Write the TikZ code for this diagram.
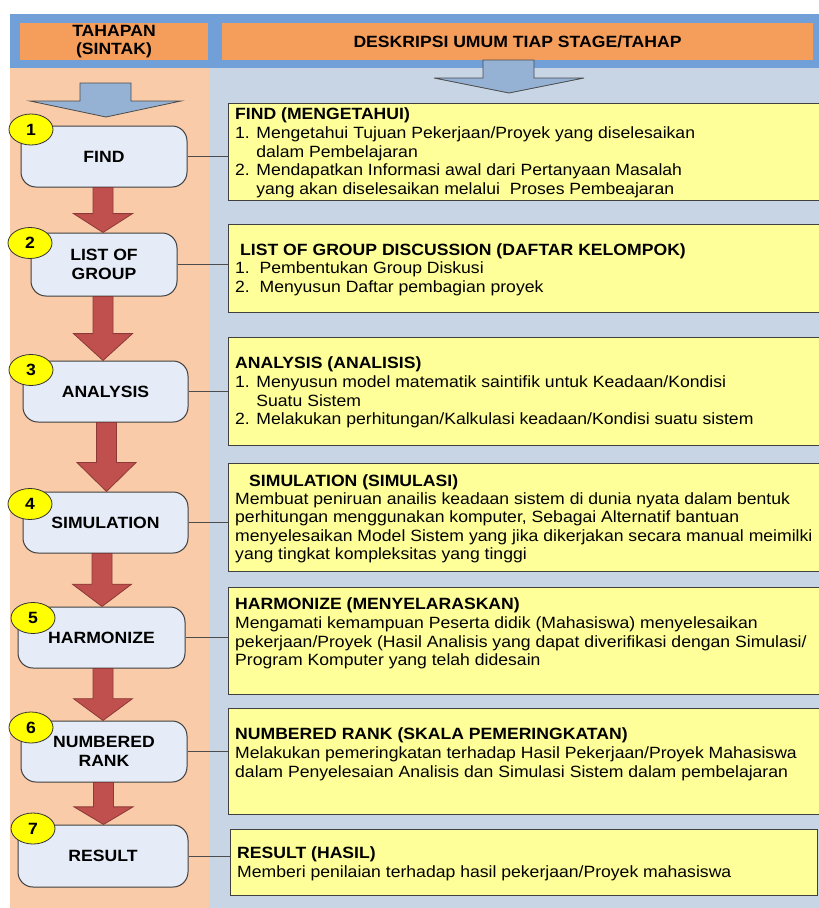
\documentclass[tikz,border=0pt]{standalone}
\usepackage{fontspec}
\setmainfont[FakeStretch=1.08]{Liberation Sans}
\usetikzlibrary{shapes.geometric,calc}

\definecolor{frameblue}{HTML}{719FD8}
\definecolor{headorange}{HTML}{F59E5B}
\definecolor{peach}{HTML}{F9CBA8}
\definecolor{steel}{HTML}{C7D5E5}
\definecolor{downblue}{HTML}{95B1D3}
\definecolor{stagefill}{HTML}{E5ECF7}
\definecolor{flowred}{HTML}{C0504D}
\definecolor{flowredline}{HTML}{8B3A38}
\definecolor{notefill}{HTML}{FFFF99}
\definecolor{badgeyellow}{HTML}{FFFF00}

\newcommand\txtsize{\fontsize{16.3}{18.6}\selectfont}

% block arrow between two stage boxes: from, to, x of the arrow axis
\newcommand\flowarrow[3]{%
  \path[flowarrowstyle] let \p1=(#1.south), \p2=(#2.north),
    \n1={\y2+0.42*(\y1-\y2)} in
    ({#3pt-10pt},\y1) -- ({#3pt+10pt},\y1) -- ({#3pt+10pt},\n1) --
    ({#3pt+29.5pt},\n1) -- ({#3pt},\y2) -- ({#3pt-29.5pt},\n1) --
    ({#3pt-10pt},\n1) -- cycle;}

\tikzset{
  header/.style={fill=headorange, font=\bfseries\txtsize, align=center, inner sep=0pt},
  downarrow/.style={fill=downblue, draw=black!70, line width=0.8pt},
  stagebox/.style={draw=black!75, line width=1pt, fill=stagefill, rounded corners=15pt,
    font=\bfseries\fontsize{16.3}{19}\selectfont, align=center, inner sep=0pt},
  badge/.style={ellipse, draw=black!80, line width=0.8pt, fill=badgeyellow,
    minimum width=44pt, minimum height=31pt, inner sep=0pt, font=\bfseries\txtsize},
  notebox/.style={draw=black!75, line width=0.9pt, fill=notefill, inner sep=0pt},
  % anchored on the baseline of the last line
  notetext/.style={anchor=base west, align=left, inner sep=0pt, font=\txtsize},
  flowarrowstyle/.style={fill=flowred, draw=flowredline, line width=0.8pt},
  link/.style={draw=black!70, line width=0.9pt},
}

\begin{document}
\begin{tikzpicture}[x=1pt,y=-1pt]
\useasboundingbox (0,0) rectangle (819,908);
\fill[white] (0,0) rectangle (819,908);

% frame and column backgrounds
\fill[frameblue] (10,14) rectangle (819,68);
\fill[peach] (10,68) rectangle (209,908);
\fill[steel] (209,68) rectangle (819,908);

% column headers
\node[header, minimum width=188pt, minimum height=37pt] (hleft) at (114,41.5) {TAHAPAN\\(SINTAK)};
\node[header, minimum width=591pt, minimum height=37pt] (hright) at (517.5,41.5) {DESKRIPSI UMUM TIAP STAGE/TAHAP};

% entry arrows under the headers
\path[downarrow] (80,83) -- (131,83) -- (131,101) -- (181,101) -- (106,117) -- (30,101) -- (80,101) -- cycle;
\path[downarrow] (483,60) -- (534,60) -- (534,78) -- (584,78) -- (509,93) -- (434,78) -- (483,78) -- cycle;

% stages
\node[stagebox, minimum width=166pt, minimum height=61pt] (s1) at (104,156.5) {FIND};
\node[stagebox, minimum width=146pt, minimum height=63pt] (s2) at (104,264.5) {LIST OF\\GROUP};
\node[stagebox, minimum width=165pt, minimum height=61pt] (s3) at (105.5,391.5) {ANALYSIS};
\node[stagebox, minimum width=165pt, minimum height=61pt] (s4) at (105.5,522.5) {SIMULATION};
\node[stagebox, minimum width=167pt, minimum height=61pt] (s5) at (101.5,637.5) {HARMONIZE};
\node[stagebox, minimum width=166pt, minimum height=61pt] (s6) at (104,751.5) {NUMBERED\\RANK};
\node[stagebox, minimum width=170pt, minimum height=62pt] (s7) at (103,856) {RESULT};

% step numbers
\node[badge] (c1) at (31,129.5) {1};
\node[badge] (c2) at (30,243) {2};
\node[badge] (c3) at (31,370) {3};
\node[badge] (c4) at (30,504) {4};
\node[badge] (c5) at (33,618) {5};
\node[badge] (c6) at (31,727.5) {6};
\node[badge] (c7) at (33,828.5) {7};

% flow between stages
\flowarrow{s1}{s2}{103}
\flowarrow{s2}{s3}{103}
\flowarrow{s3}{s4}{106.5}
\flowarrow{s4}{s5}{102}
\flowarrow{s5}{s6}{103}
\flowarrow{s6}{s7}{103.5}

% description boxes
\node[notebox, minimum width=594pt, minimum height=97pt] (d1) at (525,151.5) {};
\node[notebox, minimum width=594pt, minimum height=88pt] (d2) at (525,268) {};
\node[notebox, minimum width=594pt, minimum height=108pt] (d3) at (525,391) {};
\node[notebox, minimum width=594pt, minimum height=108pt] (d4) at (525,517) {};
\node[notebox, minimum width=594pt, minimum height=107pt] (d5) at (525,640.5) {};
\node[notebox, minimum width=594pt, minimum height=106pt] (d6) at (525,761) {};
\node[notebox, minimum width=587pt, minimum height=66pt] (d7) at (523.5,862) {};

% links from stages to descriptions
\foreach \i in {1,...,7} \draw[link] (s\i.east) -- (s\i.east -| d\i.west);

% description texts
\node[notetext] (t1) at (235,194.2) {\textbf{FIND (MENGETAHUI)}\\
1. Mengetahui Tujuan Pekerjaan/Proyek yang diselesaikan\\
\phantom{1. }dalam Pembelajaran\\
2. Mendapatkan Informasi awal dari Pertanyaan Masalah\\
\phantom{2. }yang akan diselesaikan melalui\ \ Proses Pembeajaran};

\node[notetext] (t2a) at (240,255.8) {\textbf{LIST OF GROUP DISCUSSION (DAFTAR KELOMPOK)}};
\node[notetext] (t2b) at (235,292.1) {1.\ \ Pembentukan Group Diskusi\\
2.\ \ Menyusun Daftar pembagian proyek};

\node[notetext] (t3) at (235,424.6) {\textbf{ANALYSIS (ANALISIS)}\\
1. Menyusun model matematik saintifik untuk Keadaan/Kondisi\\
\phantom{1. }Suatu Sistem\\
2. Melakukan perhitungan/Kalkulasi keadaan/Kondisi suatu sistem};

\node[notetext] (t4a) at (249,486.8) {\textbf{SIMULATION (SIMULASI)}};
\node[notetext] (t4b) at (235,559.8) {Membuat peniruan anailis keadaan sistem di dunia nyata dalam bentuk\\
perhitungan menggunakan komputer, Sebagai Alternatif bantuan\\
menyelesaikan Model Sistem yang jika dikerjakan secara manual meimilki\\
yang tingkat kompleksitas yang tinggi};

\node[notetext] (t5) at (235,665.6) {\textbf{HARMONIZE (MENYELARASKAN)}\\
Mengamati kemampuan Peserta didik (Mahasiswa) menyelesaikan\\
pekerjaan/Proyek (Hasil Analisis yang dapat diverifikasi dengan Simulasi/\\
Program Komputer yang telah didesain};

\node[notetext] (t6) at (235,777) {\textbf{NUMBERED RANK (SKALA PEMERINGKATAN)}\\
Melakukan pemeringkatan terhadap Hasil Pekerjaan/Proyek Mahasiswa\\
dalam Penyelesaian Analisis dan Simulasi Sistem dalam pembelajaran};

\node[notetext] (t7) at (237,877.4) {\textbf{RESULT (HASIL)}\\
Memberi penilaian terhadap hasil pekerjaan/Proyek mahasiswa};
\end{tikzpicture}
\end{document}
